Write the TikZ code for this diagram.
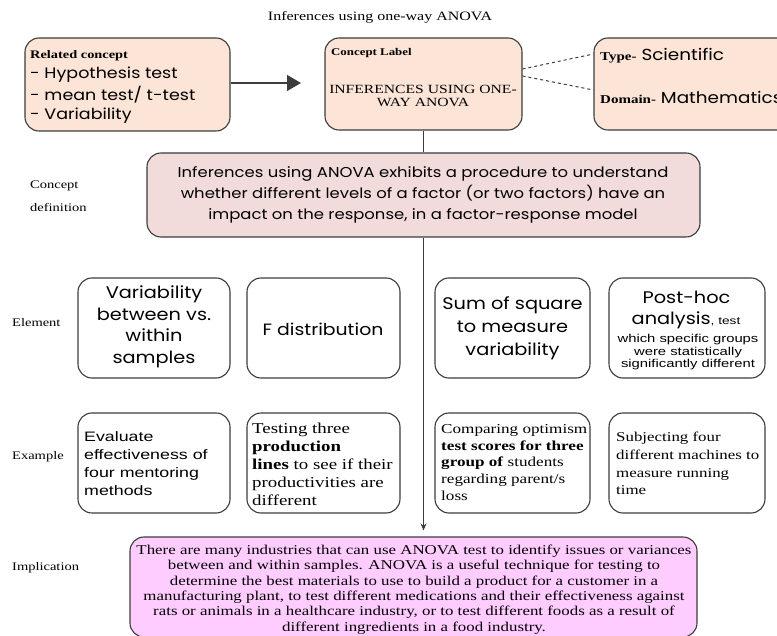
\documentclass[tikz,border=0pt]{standalone}
\usepackage{fontspec}
\setmainfont[FakeStretch=1.25]{Liberation Serif}
\newfontfamily\gothic[FakeStretch=1.15]{Poppins}
\newfontfamily\arialf[FakeStretch=1.3]{Liberation Sans}
\usetikzlibrary{arrows.meta}
\definecolor{peach}{HTML}{FCE4D6}
\definecolor{rosefill}{HTML}{F2DCDB}
\definecolor{lilac}{HTML}{FFCCFF}
\definecolor{edge}{HTML}{3C3C3C}
\tikzset{
  box/.style={draw=edge, line width=1.1pt, rounded corners=14pt, inner sep=0pt},
  peachbox/.style={box, fill=peach},
  plainbox/.style={box, fill=white},
  rowlabel/.style={anchor=west, font=\fontsize{11.6}{13}\selectfont, inner sep=0pt},
  txt/.style={inner sep=0pt, anchor=west},
  ctxt/.style={inner sep=0pt, align=center},
  link/.style={draw=edge, line width=1.1pt},
}
\begin{document}
\begin{tikzpicture}[x=1pt, y=-1pt]
\useasboundingbox (0,0) rectangle (777,636);
\begin{scope}
\clip (0,0) rectangle (777,636);

% title
\node[ctxt, font=\fontsize{12.8}{14}\selectfont] (title) at (380,17) {Inferences using one-way ANOVA};

% top row boxes
\node[peachbox, minimum width=205pt, minimum height=93pt] (related) at (127.5,84.5) {};
\node[peachbox, minimum width=197pt, minimum height=92pt] (label) at (423.5,84) {};
\node[peachbox, minimum width=200pt, minimum height=92pt] (kind) at (694,84) {};

\node[txt, font=\fontsize{11.5}{13}\selectfont\bfseries] (relhead) at (30,56) {Related concept};
\node[txt, font=\gothic\fontsize{15.2}{18}\selectfont] (rel1) at (30,75) {- Hypothesis test};
\node[txt, font=\gothic\fontsize{15.2}{18}\selectfont] (rel2) at (30,95) {- mean test/ t-test};
\node[txt, font=\gothic\fontsize{15.2}{18}\selectfont] (rel3) at (30,116) {- Variability};

\node[txt, font=\fontsize{10.3}{12}\selectfont\bfseries] (labhead) at (331,53) {Concept Label};
\node[ctxt, font=\fontsize{12.5}{13.5}\selectfont] (labtext) at (423,96) {INFERENCES USING ONE-\\WAY ANOVA};

\node[txt] (typ) at (600,56) {{\fontsize{12}{13}\selectfont\bfseries Type-}{\gothic\fontsize{16}{18}\selectfont\ Scientific}};
\node[txt] (dom) at (600,97) {{\fontsize{12}{13}\selectfont\bfseries Domain-}{\gothic\fontsize{16}{18}\selectfont\ Mathematics}};

% connectors in the top row
\coordinate (arrowtip) at (301,83);
\draw[link, -{Triangle[length=14pt, width=16pt]}] (related.east |- 0,83) -- (arrowtip);
\draw[link, dashed, line width=1pt] (label.east |- 0,69) -- (kind.west |- 0,54);
\draw[link, dashed, line width=1pt] (label.east |- 0,76) -- (kind.west |- 0,90);

% concept definition
\node[box, fill=rosefill, minimum width=553pt, minimum height=84pt] (def) at (423.5,195) {};
\node[ctxt, font=\gothic\fontsize{14.3}{21}\selectfont] (deftext) at (423,195)
  {Inferences using ANOVA exhibits a procedure to understand\\
   whether different levels of a factor (or two factors) have an\\
   impact on the response, in a factor-response model};
\draw[link] (label.south) -- (def.north);

% row labels
\node[rowlabel] (lab1) at (30,186) {Concept};
\node[rowlabel] (lab2) at (30,207) {definition};
\node[rowlabel] (lab3) at (12,323) {Element};
\node[rowlabel] (lab4) at (12,457) {Example};
\node[rowlabel] (lab5) at (12,568) {Implication};

% element row
\node[plainbox, minimum width=152pt, minimum height=100pt] (e1) at (154,328) {};
\node[plainbox, minimum width=153pt, minimum height=100pt] (e2) at (323.5,328) {};
\node[plainbox, minimum width=155pt, minimum height=100pt] (e3) at (512.5,328) {};
\node[plainbox, minimum width=156pt, minimum height=100pt] (e4) at (687,328) {};

\node[ctxt, font=\gothic\fontsize{16.8}{21.5}\selectfont] (e1t) at (154,327)
  {Variability\\between vs.\\within\\samples};
\node[ctxt, font=\gothic\fontsize{16.4}{18}\selectfont] (e2t) at (323,329) {F distribution};
\node[ctxt, font=\gothic\fontsize{16.8}{23}\selectfont] (e3t) at (512.5,328)
  {Sum of square\\to measure\\variability};
\node[ctxt, font=\gothic\fontsize{16.8}{18}\selectfont] (e4a) at (686.5,297) {Post-hoc};
\node[ctxt] (e4b) at (686,320) {{\gothic\fontsize{16.8}{18}\selectfont analysis}{\arialf\fontsize{10.5}{12}\selectfont, test}};
\node[ctxt, font=\arialf\fontsize{11.4}{12.5}\selectfont] (e4c) at (688,352.5)
  {which specific groups\\were statistically\\significantly different};

% example row
\node[plainbox, minimum width=152pt, minimum height=100pt] (x1) at (154,463) {};
\node[plainbox, minimum width=153pt, minimum height=100pt] (x2) at (323.5,463) {};
\node[plainbox, minimum width=155pt, minimum height=100pt] (x3) at (512.5,463) {};
\node[plainbox, minimum width=156pt, minimum height=100pt] (x4) at (687,463) {};

\node[txt, align=left, font=\arialf\fontsize{13.7}{17.8}\selectfont] (x1t) at (84,463.5)
  {Evaluate\\effectiveness of\\four mentoring\\methods};
\node[txt, align=left, font=\fontsize{15.1}{18}\selectfont] (x2t) at (252,464)
  {Testing three\\\textbf{production}\\\textbf{lines} to see if their\\productivities are\\different};
\node[txt, align=left, font=\fontsize{13.7}{16.8}\selectfont] (x3t) at (441,462.5)
  {Comparing optimism\\\textbf{test scores for three}\\\textbf{group of} students\\regarding parent/s\\loss};
\node[txt, align=left, font=\fontsize{13.5}{17.8}\selectfont] (x4t) at (616,463.5)
  {Subjecting four\\different machines to\\measure running\\time};

% implication
\node[box, fill=lilac, minimum width=567pt, minimum height=100pt] (impl) at (413.5,587) {};
\node[ctxt, font=\fontsize{13.5}{15.4}\selectfont] (implt) at (414,589.5)
  {There are many industries that can use ANOVA test to identify issues or variances\\
   between and within samples. ANOVA is a useful technique for testing to\\
   determine the best materials to use to build a product for a customer in a\\
   manufacturing plant, to test different medications and their effectiveness against\\
   rats or animals in a healthcare industry, or to test different foods as a result of\\
   different ingredients in a food industry.};

% main spine
\draw[link, -{Stealth[length=7pt, width=6pt]}, shorten >=6pt] (def.south) -- (def.south |- impl.north);
\end{scope}
\end{tikzpicture}
\end{document}
